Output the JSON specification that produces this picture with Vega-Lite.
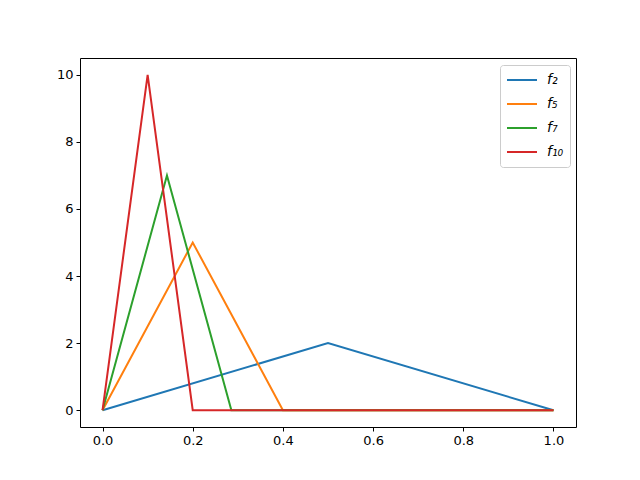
{
  "$schema": "https://vega.github.io/schema/vega-lite/v6.json",
  "width": 496,
  "height": 369,
  "autosize": "none",
  "padding": {"left": 80, "top": 58, "right": 64, "bottom": 53},
  "background": "white",
  "config": {
    "view": {"stroke": "black", "strokeWidth": 1},
    "font": "DejaVu Sans",
    "axis": {
      "grid": false,
      "domain": false,
      "tickColor": "black",
      "tickSize": 4,
      "labelColor": "black",
      "labelFontSize": 13,
      "labelPadding": 3,
      "labelFont": "DejaVu Sans"
    }
  },
  "data": {
    "values": [
      {"series": "f₂", "x": 0, "y": 0},
      {"series": "f₂", "x": 0.5, "y": 2},
      {"series": "f₂", "x": 1, "y": 0},
      {"series": "f₅", "x": 0, "y": 0},
      {"series": "f₅", "x": 0.2, "y": 5},
      {"series": "f₅", "x": 0.4, "y": 0},
      {"series": "f₅", "x": 1, "y": 0},
      {"series": "f₇", "x": 0, "y": 0},
      {"series": "f₇", "x": 0.142857, "y": 7},
      {"series": "f₇", "x": 0.285714, "y": 0},
      {"series": "f₇", "x": 1, "y": 0},
      {"series": "f₁₀", "x": 0, "y": 0},
      {"series": "f₁₀", "x": 0.1, "y": 10},
      {"series": "f₁₀", "x": 0.2, "y": 0},
      {"series": "f₁₀", "x": 1, "y": 0}
    ]
  },
  "mark": {"type": "line", "strokeWidth": 2},
  "encoding": {
    "x": {
      "field": "x",
      "type": "quantitative",
      "title": null,
      "scale": {"domain": [-0.05, 1.05], "nice": false, "zero": false},
      "axis": {"values": [0, 0.2, 0.4, 0.6, 0.8, 1.0], "format": ".1f"}
    },
    "y": {
      "field": "y",
      "type": "quantitative",
      "title": null,
      "scale": {"domain": [-0.5, 10.5], "nice": false, "zero": false},
      "axis": {"values": [0, 2, 4, 6, 8, 10], "format": "d"}
    },
    "color": {
      "field": "series",
      "type": "nominal",
      "scale": {
        "domain": ["f₂", "f₅", "f₇", "f₁₀"],
        "range": ["#1f77b4", "#ff7f0e", "#2ca02c", "#d62728"]
      },
      "legend": {
        "title": null,
        "orient": "none",
        "legendX": 420,
        "legendY": 7,
        "symbolType": "stroke",
        "symbolSize": 900,
        "symbolStrokeWidth": 2,
        "labelFontSize": 14,
        "labelFontStyle": "italic",
        "labelFont": "DejaVu Sans",
        "labelColor": "black",
        "labelOffset": 9,
        "rowPadding": 6,
        "clipHeight": 18,
        "padding": 6,
        "fillColor": "white",
        "strokeColor": "#cccccc",
        "cornerRadius": 3
      }
    }
  }
}
